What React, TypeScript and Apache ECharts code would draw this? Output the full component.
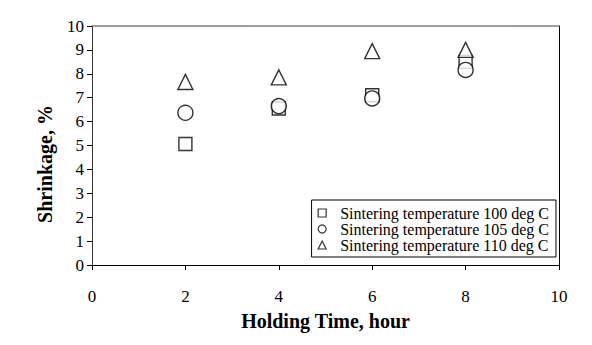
import React, { useEffect, useRef } from "react";
import * as echarts from "echarts";

const hours = [2, 4, 6, 8];
const s100 = [5.06, 6.55, 7.1, 8.5];
const s105 = [6.37, 6.65, 6.97, 8.16];
const s110 = [7.66, 7.85, 8.95, 9.0];
const seriesNames = [
  "Sintering temperature 100 deg C",
  "Sintering temperature 105 deg C",
  "Sintering temperature 110 deg C",
];
const xTitle = "Holding Time, hour";
const yTitle = "Shrinkage, %";

const FONT = "Liberation Serif, Times New Roman, serif";

export default function App() {
  const ref = useRef<HTMLDivElement>(null);
  useEffect(() => {
    if (!ref.current) return;
    const chart = echarts.init(ref.current, undefined, { renderer: "svg" });
    const mk = (name: string, vals: number[], symbol: string, size: number) => ({
      name,
      type: "scatter",
      symbol,
      symbolSize: size,
      data: hours.map((h, i) => [h, vals[i]]),
      itemStyle: { color: "#fff", borderColor: "#000", borderWidth: 1.4 },
      xAxisIndex: 0,
      yAxisIndex: 0,
    });
    chart.setOption({
      animation: false,
      backgroundColor: "#fff",
      grid: { left: 92, right: 33, top: 26, bottom: 80 },
      graphic: [
        {
          type: "text",
          x: 45,
          y: 164,
          rotation: Math.PI / 2,
          style: {
            text: yTitle,
            fontFamily: FONT,
            fontSize: 20,
            fontWeight: "bold",
            fill: "#000",
            align: "center",
            verticalAlign: "middle",
          },
        },
      ],
      legend: {
        orient: "vertical",
        right: 36,
        top: 200,
        backgroundColor: "#fff",
        borderColor: "#000",
        borderWidth: 1,
        borderRadius: 0,
        padding: [5, 7, 4, 6],
        itemGap: 0,
        itemWidth: 8,
        itemHeight: 8,
        textStyle: {
          fontFamily: FONT,
          fontSize: 16,
          lineHeight: 16,
          color: "#000",
          padding: [0, 0, 0, 9],
        },
        data: seriesNames.map((n, i) => ({
          name: n,
          icon: ["rect", "circle", "triangle"][i],
          itemStyle: { color: "#fff", borderColor: "#000", borderWidth: 1.2 },
        })),
      },
      xAxis: [
        {
          type: "value",
          min: 0,
          max: 10,
          interval: 2,
          name: xTitle,
          nameLocation: "middle",
          nameGap: 46,
          nameTextStyle: { fontFamily: FONT, fontSize: 20, fontWeight: "bold", color: "#000" },
          axisLine: { show: true, lineStyle: { color: "#000", width: 1 } },
          axisTick: { show: true, length: 5, lineStyle: { color: "#000" } },
          axisLabel: { fontFamily: FONT, fontSize: 17, color: "#000", margin: 23 },
          splitLine: { show: false },
        },
        {
          type: "value",
          position: "top",
          min: 0,
          max: 10,
          axisLine: { show: true, onZero: false, lineStyle: { color: "#808080", width: 1.5 } },
          axisTick: { show: false },
          axisLabel: { show: false },
          splitLine: { show: false },
        },
      ],
      yAxis: [
        {
          type: "value",
          min: 0,
          max: 10,
          interval: 1,
          axisLine: { show: true, lineStyle: { color: "#333", width: 1 } },
          axisTick: { show: true, length: 5, lineStyle: { color: "#000" } },
          axisLabel: { fontFamily: FONT, fontSize: 17, color: "#000", margin: 8 },
          splitLine: { show: false },
        },
        {
          type: "value",
          position: "right",
          min: 0,
          max: 10,
          axisLine: { show: true, onZero: false, lineStyle: { color: "#000", width: 1 } },
          axisTick: { show: false },
          axisLabel: { show: false },
          splitLine: { show: false },
        },
      ],
      series: [
        mk(seriesNames[0], s100, "rect", 13),
        mk(seriesNames[1], s105, "circle", 15),
        mk(seriesNames[2], s110, "triangle", 15),
      ],
    });
    return () => chart.dispose();
  }, []);
  return <div ref={ref} style={{ width: 592, height: 345, margin: -8 }} />;
}
